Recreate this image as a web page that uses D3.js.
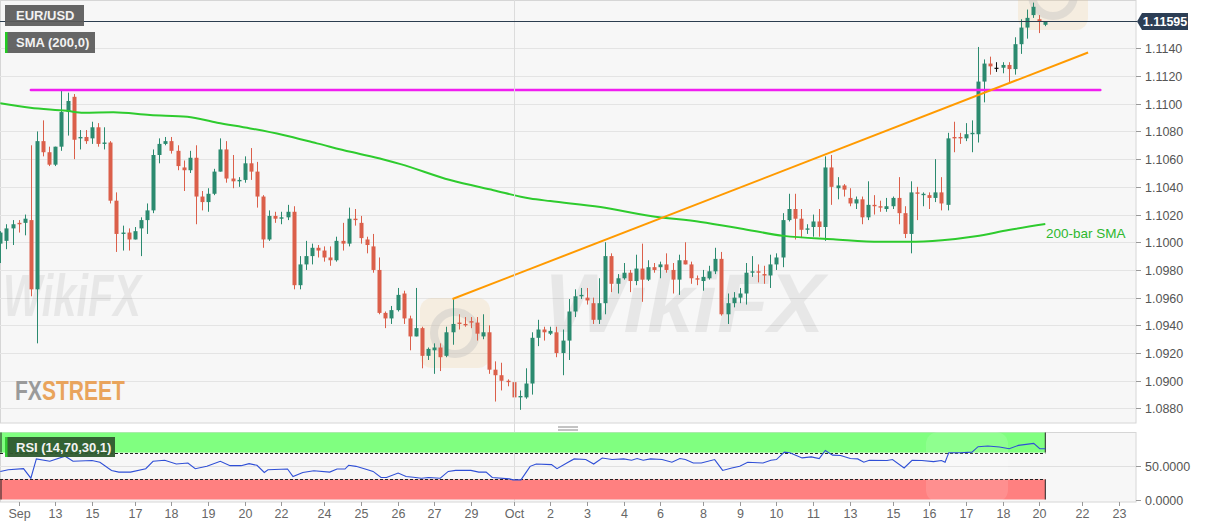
<!DOCTYPE html>
<html><head><meta charset="utf-8">
<script src="https://cdn.jsdelivr.net/npm/d3@7"></script>
<style>
html,body{margin:0;padding:0;background:#fff;overflow:hidden;}
svg{display:block;font-family:"Liberation Sans",Arial,sans-serif;}
</style></head><body>
<svg id="chart" width="1207" height="526"></svg>
<script>
// ---------- DATA (4-hour EUR/USD bars) ----------
const opens = [1.0999,1.1001,1.1010,1.1014,1.1014,1.1016,1.0966,1.1073,1.1065,1.1056,1.1069,1.1094,1.1105,1.1075,1.1076,1.1075,1.1083,1.1071,1.1072,1.1030,1.1006,1.1007,1.1002,1.1010,1.1016,1.1023,1.1063,1.1071,1.1073,1.1066,1.1054,1.1052,1.1061,1.1033,1.1029,1.1035,1.1051,1.1067,1.1046,1.1044,1.1045,1.1057,1.1051,1.1033,1.1002,1.1019,1.1017,1.1018,1.1022,1.0969,1.0984,1.0990,1.0996,1.0994,1.0989,1.0987,1.1001,1.0999,1.1017,1.1014,1.1002,1.0997,1.0980,1.0949,1.0945,1.0951,1.0963,1.0945,1.0932,1.0938,1.0918,1.0922,1.0924,1.0918,1.0935,1.0942,1.0941,1.0943,1.0942,1.0932,1.0935,1.0908,1.0904,1.0900,1.0899,1.0888,1.0888,1.0898,1.0931,1.0937,1.0934,1.0935,1.0920,1.0929,1.0950,1.0961,1.0960,1.0956,1.0944,1.0956,1.0990,1.0970,1.0974,1.0978,1.0972,1.0981,1.0973,1.0982,1.0982,1.0984,1.0980,1.0973,1.0987,1.0984,1.0974,1.0972,1.0974,1.0979,1.0988,1.0948,1.0956,1.0960,1.0963,1.0978,1.0979,1.0977,1.0976,1.0984,1.0989,1.1016,1.1024,1.1017,1.1009,1.1011,1.1015,1.1011,1.1054,1.1039,1.1041,1.1032,1.1028,1.1031,1.1018,1.1027,1.1026,1.1024,1.1026,1.1032,1.1021,1.1006,1.1036,1.1034,1.1034,1.1032,1.1036,1.1027,1.1076,1.1076,1.1075,1.1078,1.1078,1.1116,1.1129,1.1126,1.1126,1.1128,1.1125,1.1143,1.1155,1.1164,1.1161,1.1157];
const highs = [1.1008,1.1013,1.1016,1.1016,1.1020,1.1070,1.1080,1.1088,1.1069,1.1069,1.1110,1.1108,1.1107,1.1081,1.1081,1.1087,1.1086,1.1083,1.1073,1.1036,1.1012,1.1010,1.1011,1.1018,1.1028,1.1067,1.1075,1.1076,1.1076,1.1070,1.1059,1.1066,1.1070,1.1037,1.1039,1.1053,1.1075,1.1073,1.1063,1.1047,1.1062,1.1068,1.1058,1.1034,1.1023,1.1022,1.1022,1.1027,1.1026,1.0990,1.1001,1.0999,1.0998,1.0997,1.0997,1.1004,1.1014,1.1025,1.1024,1.1019,1.1004,1.1006,1.0989,1.0950,1.0954,1.0967,1.0965,1.0947,1.0967,1.0939,1.0924,1.0927,1.0927,1.0939,1.0959,1.0948,1.0946,1.0946,1.0946,1.0948,1.0940,1.0914,1.0913,1.0901,1.0901,1.0893,1.0909,1.0935,1.0944,1.0939,1.0939,1.0939,1.0937,1.0959,1.0966,1.0967,1.0967,1.0960,1.0974,1.1000,1.0992,1.0977,1.0985,1.0980,1.0991,1.0999,1.0987,1.0985,1.0986,1.0992,1.0985,1.0991,1.1000,1.0986,1.0976,1.0980,1.0983,1.0996,1.0993,1.0963,1.0964,1.0967,1.0985,1.0990,1.0984,1.0983,1.0991,1.0992,1.1021,1.1035,1.1035,1.1024,1.1013,1.1020,1.1024,1.1062,1.1063,1.1047,1.1042,1.1039,1.1033,1.1033,1.1044,1.1034,1.1030,1.1032,1.1033,1.1047,1.1026,1.1044,1.1040,1.1036,1.1036,1.1060,1.1047,1.1079,1.1087,1.1079,1.1086,1.1088,1.1141,1.1132,1.1134,1.1130,1.1130,1.1130,1.1148,1.1161,1.1168,1.1173,1.1164,1.1159];
const lows = [1.0985,1.0995,1.0998,1.1007,1.1005,1.0961,1.0927,1.1062,1.1055,1.1055,1.1066,1.1077,1.1060,1.1067,1.1071,1.1071,1.1069,1.1067,1.1028,1.0993,1.0994,1.0994,1.1002,1.0990,1.1006,1.1021,1.1057,1.1070,1.1064,1.1052,1.1037,1.1050,1.1013,1.1023,1.1022,1.1034,1.1051,1.1043,1.1039,1.1040,1.1043,1.1045,1.1025,1.0996,1.1001,1.1014,1.1013,1.1016,1.0966,1.0966,1.0980,1.0984,1.0989,1.0986,1.0983,1.0986,1.0994,1.0997,1.1012,1.0999,1.0992,1.0978,1.0948,1.0938,1.0941,1.0950,1.0941,1.0922,1.0932,1.0909,1.0915,1.0905,1.0907,1.0917,1.0926,1.0937,1.0939,1.0938,1.0929,1.0930,1.0905,1.0885,1.0893,1.0896,1.0885,1.0879,1.0887,1.0890,1.0925,1.0929,1.0933,1.0917,1.0904,1.0915,1.0946,1.0959,1.0955,1.0941,1.0941,1.0948,1.0964,1.0963,1.0973,1.0964,1.0969,1.0957,1.0972,1.0978,1.0974,1.0978,1.0963,1.0962,1.0984,1.0970,1.0969,1.0965,1.0973,1.0977,1.0947,1.0941,1.0953,1.0956,1.0955,1.0975,1.0971,1.0970,1.0967,1.0980,1.0982,1.1015,1.1002,1.1003,1.1006,1.1004,1.1004,1.1001,1.1027,1.1031,1.1033,1.1026,1.1024,1.1013,1.1016,1.1020,1.1022,1.1022,1.1024,1.1013,1.1003,1.0992,1.1016,1.1026,1.1024,1.1029,1.1023,1.1023,1.1065,1.1071,1.1073,1.1065,1.1072,1.1101,1.1121,1.1123,1.1122,1.1115,1.1121,1.1136,1.1147,1.1162,1.1151,1.1156];
const closes = [1.1007,1.1010,1.1013,1.1013,1.1017,1.0966,1.1073,1.1065,1.1056,1.1069,1.1094,1.1102,1.1074,1.1076,1.1073,1.1083,1.1071,1.1072,1.1030,1.1006,1.1007,1.1002,1.1008,1.1016,1.1023,1.1063,1.1071,1.1073,1.1066,1.1055,1.1052,1.1061,1.1033,1.1029,1.1035,1.1051,1.1067,1.1046,1.1044,1.1045,1.1057,1.1051,1.1033,1.1002,1.1019,1.1017,1.1018,1.1022,1.0969,1.0984,1.0990,1.0996,1.0994,1.0989,1.0987,1.1001,1.0999,1.1017,1.1016,1.1003,1.0998,1.0980,1.0949,1.0945,1.0951,1.0962,1.0945,1.0932,1.0938,1.0918,1.0923,1.0924,1.0917,1.0935,1.0941,1.0941,1.0940,1.0942,1.0934,1.0935,1.0908,1.0904,1.0900,1.0899,1.0888,1.0889,1.0898,1.0931,1.0937,1.0935,1.0936,1.0920,1.0929,1.0950,1.0961,1.0962,1.0958,1.0944,1.0956,1.0990,1.0970,1.0974,1.0978,1.0972,1.0981,1.0973,1.0982,1.0980,1.0984,1.0980,1.0973,1.0987,1.0984,1.0974,1.0973,1.0975,1.0979,1.0988,1.0948,1.0956,1.0960,1.0963,1.0978,1.0979,1.0978,1.0976,1.0984,1.0989,1.1016,1.1024,1.1017,1.1009,1.1010,1.1015,1.1011,1.1054,1.1040,1.1041,1.1038,1.1028,1.1031,1.1018,1.1027,1.1026,1.1025,1.1026,1.1032,1.1021,1.1006,1.1036,1.1035,1.1035,1.1032,1.1036,1.1028,1.1075,1.1075,1.1075,1.1078,1.1079,1.1116,1.1129,1.1127,1.1126,1.1128,1.1125,1.1143,1.1155,1.1162,1.1170,1.1159,1.11595];

const tickLabels = ["Sep","13","15","17","18","19","20","22","24","25","26","27","29","Oct","2","3","4","6","8","9","10","11","13","15","16","17","18","20","22","23"];
const tickBars   = [3,9,15,22,28,34,40,46,53,59,65,71,77,84,90,96,102,108,115,121,127,133,139,146,152,158,164,170,177,183];
const monthStartBar = 84;

const priceTicks = [1.0880,1.0900,1.0920,1.0940,1.0960,1.0980,1.1000,1.1020,1.1040,1.1060,1.1080,1.1100,1.1120,1.1140];
const rsiTicks = [0, 50];
const rsiLevels = [30, 70];

const smaBars   = [0,4.9,10.9,13.6,18.5,24.5,30.6,35.5,40.9,46.3,51.8,57.3,62.7,65.5,73.6,80.7,86.7,90,98.2,106.4,114.6,121.1,128.2,136.3,144,148.6,154.1,159.6,165,171];
const smaValues = [1.11003,1.10971,1.10949,1.10935,1.10938,1.10918,1.10906,1.10863,1.10822,1.10774,1.10714,1.10653,1.10598,1.10564,1.10449,1.10376,1.10316,1.10297,1.10254,1.10189,1.10147,1.10100,1.10046,1.10022,1.10003,1.10003,1.10015,1.10044,1.10088,1.10131];

const rsiBars   = [0,1.3,3.8,5,5.9,8.1,10.6,11.9,15,16.3,18.2,19.4,21.3,23.8,25,26.9,28.8,30.7,31.9,33.8,36,37.6,39.4,40.7,42,43.2,43.8,47,47.9,49.5,51.3,53.9,55.1,56.4,57,58.2,60.1,61,62.3,63.2,65.1,66.4,67.6,68.9,70.1,72,73.3,74.5,77,78.3,79.5,80.5,83.3,83.9,85.2,86.7,87.7,90.2,91.1,92.7,93.9,95.8,97.1,98.5,100.1,102,103.3,104.2,105.2,106.4,108.3,109.9,111.2,112.1,113.4,114.7,116.9,118.2,119.7,121,122.3,124.8,126.1,127,128.3,129.2,131.2,132.7,134,135,136.2,137.5,139.1,140.3,141.3,142.2,145.1,146,147.9,149.2,150.8,152.7,154,154.6,155.2,157.1,159,160,161.6,163.5,165.1,166.6,169.1,170.1,171];
const rsiValues = [41.9,44.4,46,31.8,60.6,57.1,64.6,57.1,58.1,55.6,43.4,40.9,40.9,46,57.1,58.6,53,54.5,46,49.5,57.1,50.5,50.5,53.5,51,40.4,44.4,45.5,34.3,40.4,42.9,40.9,45.5,45.5,51,49.5,44.4,41.9,32.8,32.8,39.4,34.3,33.3,31.8,32.8,31.8,41.9,43.4,43.4,40.9,40.9,32.8,30.8,29.3,29.3,49.5,53,52,46,54.5,60.6,59.6,53,62,59.6,60.6,58.6,61.1,58.6,60.6,59.6,55.6,61.1,59.6,54.5,54.5,59.6,43.4,47,49.5,55.6,54.5,58.6,59.6,70.7,69.7,62.1,63.6,61.1,73.2,66.2,65.7,61.1,60.6,55.6,58.6,58.1,59.6,47,58.6,58.1,56.6,58.1,55.6,69.7,69.7,70.7,78.8,79.8,78.3,75.8,80.8,83.8,75.8,75.8];

const lastPrice = 1.11595;
const resistanceBars = [5, 180];
const resistancePrice = 1.1110;
const trendBars = [74, 178];
const trendPrices = [1.0959, 1.1137];

// ---------- LAYOUT ----------
const svg = d3.select("#chart");
const PR = 1136;              // plot right edge
const mainH = 423;
const rTop = 432, rBot = 502;
const x = d3.scaleLinear().domain([0, 171]).range([0.3, 1045.3]);
const y = d3.scaleLinear().domain([1.08695, 1.11749]).range([mainH, 0]);
const ry = d3.scaleLinear().domain([0, 100]).range([499.5, 432.5]);
const GREEN = "#2b8a6f", RED = "#db5f4a";

const defs = svg.append("defs");
defs.append("clipPath").attr("id","clipMain").append("rect").attr("x",0).attr("y",0).attr("width",PR).attr("height",mainH);
defs.append("clipPath").attr("id","clipRsi").append("rect").attr("x",0).attr("y",rTop).attr("width",PR).attr("height",rBot-rTop);

// panels
svg.append("rect").attr("x",0.5).attr("y",0.5).attr("width",PR-0.5).attr("height",mainH-0.5).attr("fill","#f7f7f7").attr("stroke","#d6d6d6");
svg.append("rect").attr("x",0.5).attr("y",rTop+0.5).attr("width",PR-0.5).attr("height",rBot-rTop-0.5).attr("fill","#f7f7f7").attr("stroke","#d6d6d6");

// drag handle
[427,430].forEach(v=>svg.append("line").attr("x1",558).attr("x2",578).attr("y1",v).attr("y2",v).attr("stroke","#888").attr("stroke-width",1));

const main = svg.append("g").attr("clip-path","url(#clipMain)");

// grid
main.selectAll("line.grid").data(priceTicks.concat([1.1160])).join("line")
  .attr("x1",0).attr("x2",PR).attr("y1",d=>Math.round(y(d))+0.5).attr("y2",d=>Math.round(y(d))+0.5)
  .attr("stroke","#e4e4e4");
svg.append("line").attr("x1",Math.round(x(monthStartBar))+0.5).attr("x2",Math.round(x(monthStartBar))+0.5)
  .attr("y1",0).attr("y2",rBot).attr("stroke","#dcdcdc");

// watermarks
const wm = main.append("g").attr("font-family","'Liberation Sans',Arial,sans-serif").attr("font-weight","bold").attr("font-style","italic");
wm.append("text").attr("x",3).attr("y",316).attr("font-size",60).attr("fill","#000").attr("opacity",0.06)
  .attr("textLength",138).attr("lengthAdjust","spacingAndGlyphs").text("WikiFX");
wm.append("text").attr("x",545).attr("y",332).attr("font-size",84).attr("fill","#000").attr("opacity",0.06).text("WikiFX");
[[420,298,70],[1018,-40,70]].forEach(([a,b,s])=>{
  wm.append("rect").attr("x",a).attr("y",b).attr("width",s).attr("height",s).attr("rx",12).attr("fill","#f1c27a").attr("opacity",0.18);
  wm.append("circle").attr("cx",a+s/2).attr("cy",b+s/2).attr("r",s*0.3).attr("fill","none").attr("stroke","#bbb").attr("stroke-width",8).attr("opacity",0.35);
});

// FXSTREET logo: one text, condensed by a horizontal scale
const logo = svg.append("g").attr("transform","translate(15,400) scale(0.78,1)")
  .append("text").attr("x",0).attr("y",0).attr("font-size",27).attr("font-weight","bold");
logo.append("tspan").attr("fill","#9a9a9a").text("FX");
logo.append("tspan").attr("fill","#e9a45c").text("STREET");

// candles
const idx = d3.range(opens.length);
const cg = main.append("g");
const cand = cg.selectAll("g").data(idx).join("g");
const col = i => opens[i] === closes[i] ? "#111" : (closes[i] > opens[i] ? GREEN : RED);
cand.append("line")
  .attr("x1",i=>Math.round(x(i))+0.5).attr("x2",i=>Math.round(x(i))+0.5)
  .attr("y1",i=>y(highs[i])).attr("y2",i=>y(lows[i]))
  .attr("stroke",col).attr("stroke-width",1);
cand.append("rect")
  .attr("x",i=>Math.round(x(i))-1.5).attr("width",4)
  .attr("y",i=>y(Math.max(opens[i],closes[i])))
  .attr("height",i=>Math.max(1.2, Math.abs(y(opens[i])-y(closes[i]))))
  .attr("fill",col);

// SMA
main.append("path").datum(d3.zip(smaBars, smaValues))
  .attr("d", d3.line().x(d=>x(d[0])).y(d=>y(d[1])).curve(d3.curveMonotoneX))
  .attr("fill","none").attr("stroke","#2ecb2e").attr("stroke-width",2);

// resistance (magenta)
main.append("line").attr("x1",x(resistanceBars[0])).attr("x2",x(resistanceBars[1]))
  .attr("y1",y(resistancePrice)).attr("y2",y(resistancePrice))
  .attr("stroke","#f01ef0").attr("stroke-width",2.5).attr("stroke-linecap","round");

// trend line (orange)
main.append("line").attr("x1",x(trendBars[0])).attr("x2",x(trendBars[1]))
  .attr("y1",y(trendPrices[0])).attr("y2",y(trendPrices[1]))
  .attr("stroke","#ff9a00").attr("stroke-width",2);

// last price line
svg.append("line").attr("x1",0).attr("x2",PR+1).attr("y1",Math.round(y(lastPrice))+0.5).attr("y2",Math.round(y(lastPrice))+0.5)
  .attr("stroke","#2c3e50").attr("stroke-width",1);

// SMA label
svg.append("text").attr("x",1046).attr("y",238).attr("font-size",13.5).attr("fill","#2eb82e").text("200-bar SMA");

// price axis
const ax = svg.append("g");
priceTicks.forEach(t=>{
  const yy = Math.round(y(t))+0.5;
  ax.append("line").attr("x1",PR).attr("x2",PR+5).attr("y1",yy).attr("y2",yy).attr("stroke","#999");
  ax.append("text").attr("x",PR+9).attr("y",yy).attr("dy","0.36em").attr("font-size",12.5).attr("fill","#555").text(d3.format(".4f")(t));
});
// last price tag
{
  const yc = Math.round(y(lastPrice))+0.5;
  ax.append("path").attr("d",`M${PR+1},${yc} L${PR+6},${yc-8.5} L${PR+52},${yc-8.5} L${PR+52},${yc+8.5} L${PR+6},${yc+8.5} Z`).attr("fill","#2c3e55");
  ax.append("text").attr("x",PR+29).attr("y",yc).attr("dy","0.36em").attr("text-anchor","middle")
    .attr("font-size",12.5).attr("font-weight","bold").attr("fill","#fff").text(d3.format(".5f")(lastPrice));
}

// label boxes
function labelBox(xx, yy, w, h, fill, stripe, txt){
  svg.append("rect").attr("x",xx).attr("y",yy).attr("width",w).attr("height",h).attr("fill",fill).attr("opacity",0.93);
  if (stripe) svg.append("rect").attr("x",xx).attr("y",yy).attr("width",2.5).attr("height",h).attr("fill",stripe);
  svg.append("text").attr("x",xx+11).attr("y",yy+h/2).attr("dy","0.36em").attr("font-size",13).attr("font-weight","bold").attr("fill","#f2f2f2").text(txt);
}
labelBox(5,5,79,21,"#5a5a5a",null,"EUR/USD");
labelBox(5,32,90,21,"#5a5a5a","#22cc22","SMA (200,0)");

// ---------- RSI panel ----------
const rg = svg.append("g").attr("clip-path","url(#clipRsi)");
rg.append("line").attr("x1",0).attr("x2",PR).attr("y1",Math.round(ry(50))+0.5).attr("y2",Math.round(ry(50))+0.5).attr("stroke","#e0e0e0");
const bandR = x(171);
rg.append("rect").attr("x",0).attr("y",ry(100)).attr("width",bandR).attr("height",ry(70)-ry(100)).attr("fill","#80ff80");
rg.append("rect").attr("x",0).attr("y",ry(30)).attr("width",bandR).attr("height",ry(0)-ry(30)).attr("fill","#ff8080");
rsiLevels.forEach(l=>rg.append("line").attr("x1",0).attr("x2",bandR).attr("y1",Math.round(ry(l))+0.5).attr("y2",Math.round(ry(l))+0.5)
  .attr("stroke","#222").attr("stroke-dasharray","3,2"));
[[100,70],[30,0]].forEach(([a,b])=>{
  [1,bandR].forEach(xx=>rg.append("line").attr("x1",xx).attr("x2",xx).attr("y1",ry(a)).attr("y2",ry(b)).attr("stroke","#222"));
});
rg.append("rect").attr("x",926).attr("y",rTop).attr("width",82).attr("height",rBot-rTop).attr("rx",12).attr("fill","#fff").attr("opacity",0.12);
rg.append("path").datum(d3.zip(rsiBars, rsiValues))
  .attr("d", d3.line().x(d=>x(d[0])).y(d=>ry(d[1])))
  .attr("fill","none").attr("stroke","#2f4fd6").attr("stroke-width",1.1);

svg.append("rect").attr("x",5).attr("y",437).attr("width",110).attr("height",20).attr("fill","#2e5a2e").attr("opacity",0.95);
svg.append("rect").attr("x",5).attr("y",437).attr("width",2.5).attr("height",20).attr("fill","#33cc33");
svg.append("text").attr("x",16).attr("y",447).attr("dy","0.36em").attr("font-size",13).attr("font-weight","bold").attr("fill","#f2f2f2").text("RSI (14,70,30,1)");

rsiTicks.forEach(t=>{
  const yy = Math.round(ry(t))+0.5;
  ax.append("line").attr("x1",PR).attr("x2",PR+5).attr("y1",yy).attr("y2",yy).attr("stroke","#999");
  ax.append("text").attr("x",PR+9).attr("y",yy).attr("dy","0.36em").attr("font-size",12.5).attr("fill","#555").text(d3.format(".4f")(t));
});

// ---------- time axis ----------
const tx = svg.append("g");
tickBars.forEach((b,i)=>{
  const xx = Math.round(x(b))+0.5;
  tx.append("line").attr("x1",xx).attr("x2",xx).attr("y1",rBot).attr("y2",rBot+4).attr("stroke","#999");
  const t = tx.append("text").attr("y",518).attr("font-size",12.5).attr("fill","#666").attr("text-anchor","middle").text(tickLabels[i]);
  const w = t.node().getComputedTextLength();
  t.attr("x", Math.max(xx, w/2 + 1));
});
</script>
</body></html>
